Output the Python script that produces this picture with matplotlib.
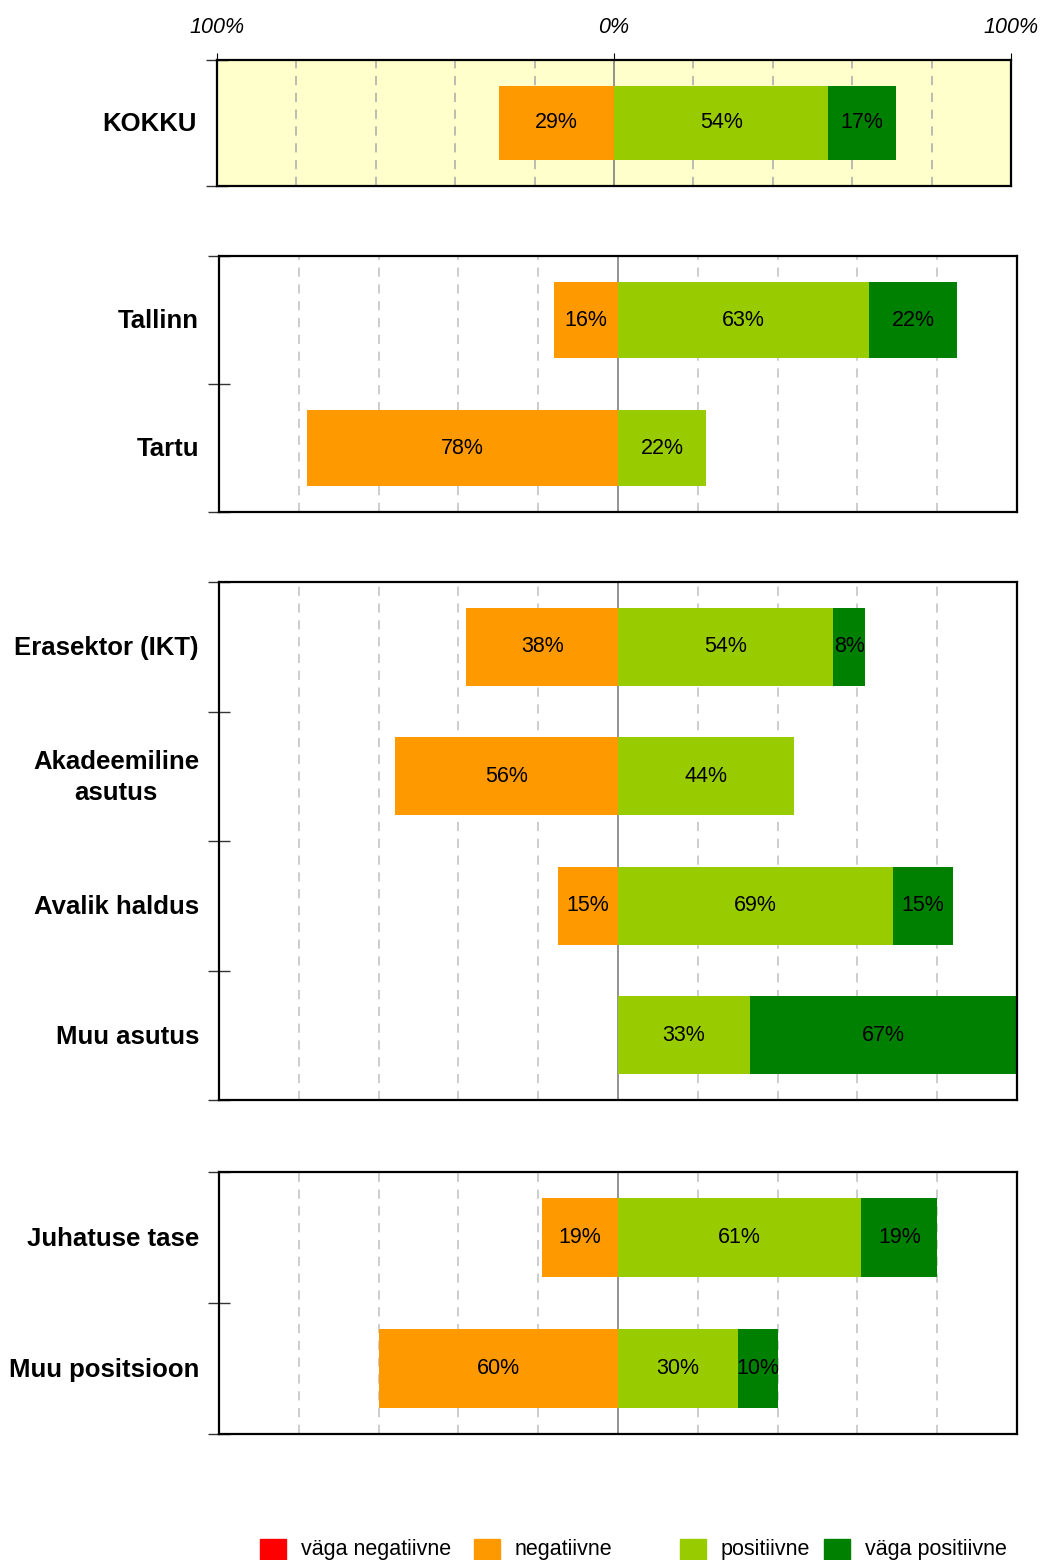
import numpy as np
import matplotlib.pyplot as plt
from matplotlib.patches import Rectangle

plt.rcParams['font.family'] = ['Liberation Sans', 'DejaVu Sans']

# data
categories = ["KOKKU", "Tallinn", "Tartu", "Erasektor (IKT)", "Akadeemiline\nasutus",
              "Avalik haldus", "Muu asutus", "Juhatuse tase", "Muu positsioon"]
very_neg = [0, 0, 0, 0, 0, 0, 0, 0, 0]
neg = [29, 16, 78, 38, 56, 15, 0, 19, 60]
pos = [54, 63, 22, 54, 44, 69, 33, 61, 30]
very_pos = [17, 22, 0, 8, 0, 15, 67, 19, 10]
panel_sizes = [1, 2, 4, 2]
legend_labels = ["väga negatiivne", "negatiivne", "positiivne", "väga positiivne"]
colors = ["#FF0000", "#FF9900", "#99CC00", "#008000"]

W, H = 1042, 1560
fig = plt.figure(figsize=(W / 100, H / 100), dpi=100)

# panel boxes in pixels: left, top, right, bottom
boxes = [(217, 60, 1011, 186), (219, 256, 1017, 512),
         (219, 582, 1017, 1100), (219, 1172, 1017, 1434)]

start = 0
for p, (n, (l, t, r, b)) in enumerate(zip(panel_sizes, boxes)):
    ax = fig.add_axes([l / W, 1 - b / H, (r - l) / W, (b - t) / H])
    idx = range(start, start + n)
    start += n
    if p == 0:
        ax.set_facecolor("#FFFFCC")
        gcol = "#a8a8a8"
    else:
        gcol = "#c0c0c0"
    ax.set_xlim(-100, 100)
    ax.set_ylim(n - 0.5, -0.5)
    for g in [-80, -60, -40, -20, 20, 40, 60, 80]:
        ax.axvline(g, color=gcol, lw=1.1, ls=(0, (6, 5)), zorder=0)
    ax.axvline(0, color="#808080", lw=1.2, zorder=0.5)
    h = 0.58 if p == 0 else 0.6
    for k, i in enumerate(idx):
        segs = [(-neg[i] - very_neg[i], very_neg[i], colors[0]),
                (-neg[i], neg[i], colors[1]),
                (0, pos[i], colors[2]),
                (pos[i], very_pos[i], colors[3])]
        for left, w, c in segs:
            if w <= 0:
                continue
            ax.barh(k, w, left=left, height=h, color=c, zorder=2)
            ax.text(left + w / 2, k, f"{w}%", ha="center", va="center",
                    fontsize=15.5, color="black", zorder=3)
        ax.text(-20 / (r - l), k + 0.01, categories[i], transform=ax.get_yaxis_transform(),
                ha="right", va="center", multialignment="center",
                fontsize=18.5, fontweight="bold", linespacing=1.35)
    ax.set_yticks(np.arange(-0.5, n, 1.0))
    ax.set_yticklabels([])
    ax.tick_params(axis="y", direction="inout", length=16, width=1, color="#333333")
    if p == 0:
        ax.set_xticks([-100, 0, 100])
        ax.set_xticklabels(["100%", "0%", "100%"], fontsize=15.5, style="italic")
        ax.xaxis.tick_top()
        ax.tick_params(axis="x", direction="out", length=5, pad=11)
    else:
        ax.set_xticks([])
    for s in ax.spines.values():
        s.set_linewidth(1.6)
        s.set_color("black")

# legend
leg_x = [260, 474, 680, 824]
for x, lab, c in zip(leg_x, legend_labels, colors):
    fig.add_artist(Rectangle((x / W, 1 - 1565 / H), 26 / W, 26 / H,
                             transform=fig.transFigure, color=c))
    fig.text((x + 41) / W, 1 - 1549 / H, lab, fontsize=15.5, va="center", ha="left")

fig.savefig("out.png", dpi=100)
